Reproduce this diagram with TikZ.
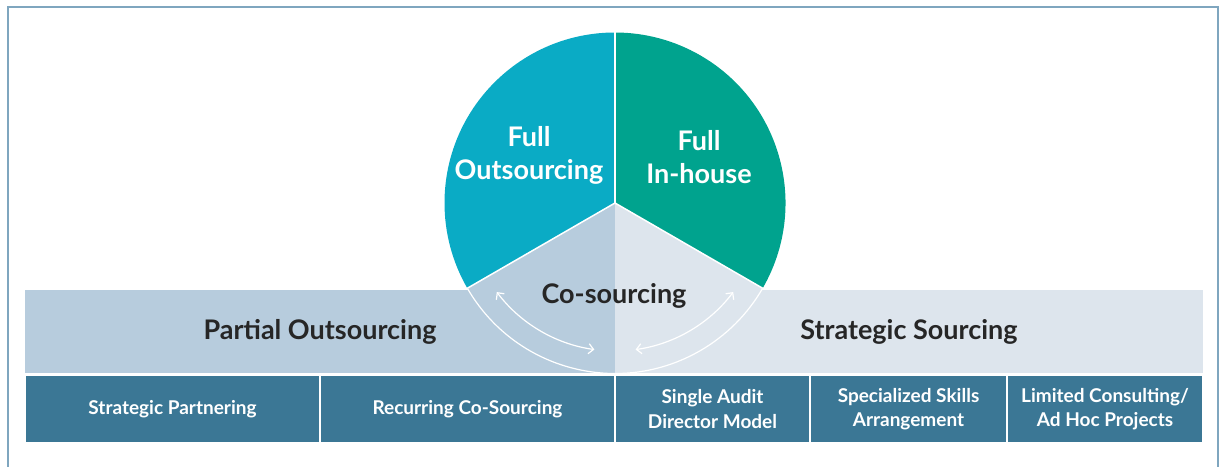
\documentclass[tikz,border=0pt]{standalone}
\usepackage{fontspec}
\setmainfont{Lato}
\usetikzlibrary{arrows.meta}
\definecolor{cyanA}{HTML}{0AABC5}
\definecolor{tealA}{HTML}{00A38E}
\definecolor{bandL}{HTML}{B7CCDD}
\definecolor{bandR}{HTML}{DDE5ED}
\definecolor{boxC}{HTML}{3B7795}
\definecolor{frameC}{HTML}{7FA6BF}
\definecolor{txtC}{HTML}{262626}
\tikzset{
  bigwhite/.style={text=white, font=\fontsize{27}{33}\selectfont\bfseries, align=center, inner sep=0},
  bigdark/.style={text=txtC, font=\fontsize{27}{33}\selectfont\bfseries, align=center, inner sep=0},
  band/.style={minimum height=83, inner sep=0, text=txtC, font=\fontsize{27}{33}\selectfont\bfseries},
  bottombox/.style={fill=boxC, draw=white, line width=1.5, minimum height=68, inner sep=0, text=white, align=center, font=\fontsize{19}{24.5}\selectfont\bfseries},
  twoway/.style={white, line width=1.2, {Straight Barb[length=5pt,width=10pt]}-{Straight Barb[length=5pt,width=10pt]}},
}
\begin{document}
\begin{tikzpicture}[x=1pt,y=1pt]
\useasboundingbox (0,0) rectangle (1223,466);
% frame
\draw[frameC, line width=1.5] (8,-5) -- (8,459) -- (1218,459) -- (1218,-5);
% bands
\node[band, fill=bandL, minimum width=590] (pband) at (320,134.5) {Partial Outsourcing};
\node[band, fill=bandR, minimum width=588] (sband) at (909,134.5) {Strategic Sourcing};
% pie
\coordinate (c) at (615,263);
\fill[cyanA] (c) -- ++(90:170.5) arc[start angle=90,end angle=210,radius=170.5] -- cycle;
\fill[tealA] (c) -- ++(-30:170.5) arc[start angle=-30,end angle=90,radius=170.5] -- cycle;
\fill[bandL] (c) -- ++(210:170.5) arc[start angle=210,end angle=270,radius=170.5] -- cycle;
\fill[bandR] (c) -- ++(270:170.5) arc[start angle=270,end angle=330,radius=170.5] -- cycle;
\draw[white, line width=1.5] (c) -- ++(90:170.5);
\draw[white, line width=1.5] (c) -- ++(210:170.5);
\draw[white, line width=1.5] (c) -- ++(330:170.5);
\draw[white, line width=1.2] (c) ++(210:170.5) arc[start angle=210,end angle=330,radius=170.5];
% arrows
\draw[twoway] (c) ++(217:148) arc[start angle=217,end angle=262,radius=148];
\draw[twoway] (c) ++(278:148) arc[start angle=278,end angle=323,radius=148];
% labels
\node[bigwhite] (fo) at (529,311) {Full\\Outsourcing};
\node[bigwhite] (fi) at (699,309) {Full\\In-house};
\node[bigdark] (co) at (614,170) {Co-sourcing};
% bottom boxes
\node[bottombox, minimum width=295] (b1) at (172.5,57) {Strategic Partnering};
\node[bottombox, minimum width=295] (b2) at (467.5,57) {Recurring Co-Sourcing};
\node[bottombox, minimum width=195] (b3) at (712.5,57) {Single Audit\\Director Model};
\node[bottombox, minimum width=197] (b4) at (908.5,57) {Specialized Skills\\Arrangement};
\node[bottombox, minimum width=196] (b5) at (1105,57) {Limited Consulting/\\Ad Hoc Projects};
\end{tikzpicture}
\end{document}
